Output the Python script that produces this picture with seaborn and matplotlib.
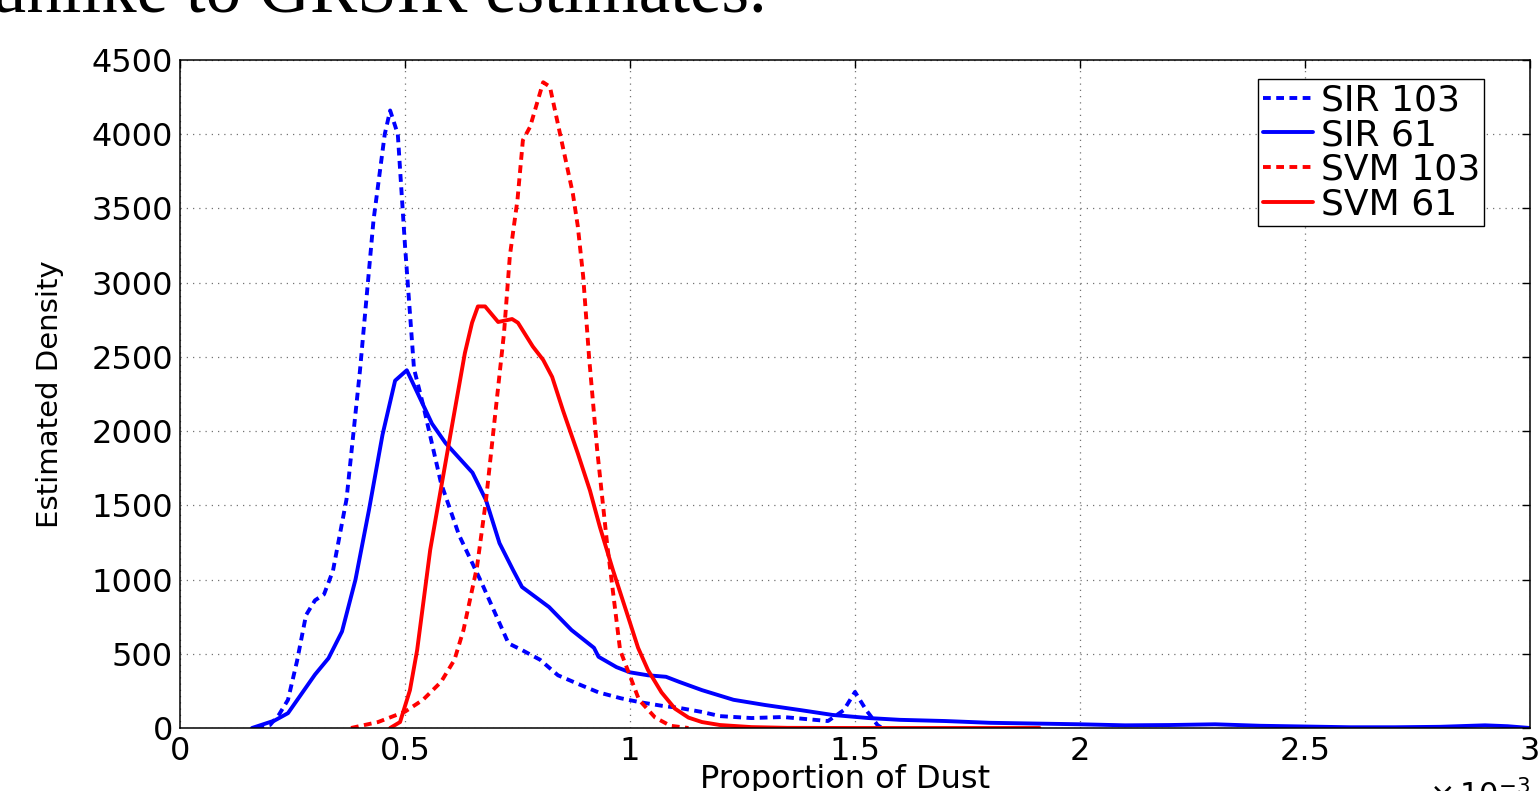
import pandas as pd
import matplotlib.pyplot as plt
import seaborn as sns
from matplotlib.ticker import FuncFormatter

# proportion of dust, in units of 1e-3
sir103_x = [0.17, 0.20, 0.22, 0.24, 0.26, 0.28, 0.30, 0.32, 0.34, 0.37, 0.40, 0.43, 0.455,
            0.467, 0.484, 0.50, 0.52, 0.54, 0.58, 0.62, 0.67, 0.73, 0.76, 0.80, 0.84, 0.89,
            0.93, 0.98, 1.02, 1.07, 1.11, 1.16, 1.20, 1.27, 1.34, 1.44, 1.475, 1.50, 1.525,
            1.55, 1.56]
sir103_y = [0, 20, 90, 190, 450, 760, 860, 900, 1060, 1540, 2410, 3420, 4000,
            4160, 4000, 3250, 2420, 2180, 1650, 1300, 980, 570, 525, 460, 355, 290,
            240, 200, 175, 150, 135, 108, 80, 67, 74, 47, 120, 243, 120,
            20, 0]

sir61_x = [0.16, 0.21, 0.24, 0.30, 0.33, 0.36, 0.39, 0.42, 0.45, 0.478, 0.504, 0.56, 0.59,
           0.65, 0.68, 0.71, 0.74, 0.76, 0.82, 0.87, 0.92, 0.93, 0.97, 1.00, 1.04, 1.08,
           1.11, 1.16, 1.23, 1.30, 1.38, 1.45, 1.53, 1.60, 1.70, 1.80, 1.90, 2.00, 2.10,
           2.20, 2.30, 2.40, 2.50, 2.60, 2.70, 2.80, 2.90, 2.95, 3.00]
sir61_y = [0, 50, 100, 360, 470, 650, 1000, 1470, 1975, 2340, 2410, 2050, 1920,
           1720, 1535, 1245, 1065, 950, 815, 660, 540, 480, 410, 375, 355, 345,
           310, 255, 190, 155, 120, 88, 67, 55, 47, 35, 30, 25, 18,
           20, 25, 15, 10, 5, 5, 8, 18, 12, 0]

svm103_x = [0.38, 0.44, 0.50, 0.54, 0.58, 0.61, 0.63, 0.66, 0.68, 0.70, 0.72, 0.733, 0.75,
            0.762, 0.778, 0.807, 0.822, 0.844, 0.873, 0.884, 0.896, 0.909, 0.927, 0.949,
            0.978, 1.00, 1.02, 1.056, 1.09, 1.13]
svm103_y = [0, 40, 110, 190, 310, 460, 660, 1085, 1535, 2100, 2660, 3180, 3560,
            3960, 4050, 4350, 4320, 4010, 3600, 3380, 3040, 2500, 1875, 1245,
            525, 350, 190, 70, 15, 0]

svm61_x = [0.467, 0.489, 0.511, 0.527, 0.556, 0.60, 0.633, 0.649, 0.662, 0.678, 0.707, 0.738,
           0.751, 0.784, 0.807, 0.827, 0.851, 0.884, 0.911, 0.933, 0.962, 0.993, 1.018,
           1.04, 1.07, 1.10, 1.13, 1.16, 1.20, 1.27, 1.35, 1.50, 1.91]
svm61_y = [0, 40, 255, 525, 1200, 1960, 2525, 2730, 2840, 2840, 2735, 2755,
           2730, 2570, 2480, 2365, 2140, 1850, 1600, 1355, 1065, 775, 540,
           390, 240, 130, 70, 40, 20, 6, 1, 0, 0]

series = ['SIR 103', 'SIR 61', 'SVM 103', 'SVM 61']
xs = [sir103_x, sir61_x, svm103_x, svm61_x]
ys = [sir103_y, sir61_y, svm103_y, svm61_y]
colors = ['#0000ff', '#0000ff', '#ff0000', '#ff0000']
styles = [(0, (2.0, 1.4)), '-', (0, (2.0, 1.4)), '-']

x_ticks = [0, 0.5, 1, 1.5, 2, 2.5, 3]
y_ticks = [0, 500, 1000, 1500, 2000, 2500, 3000, 3500, 4000, 4500]

sns.set_style('white')
plt.rcParams['font.family'] = ['DejaVu Sans']
plt.rcParams['mathtext.fontset'] = 'dejavusans'
plt.rcParams['text.color'] = 'black'
plt.rcParams['axes.labelcolor'] = 'black'

fig = plt.figure(figsize=(15.39, 7.91), dpi=100)
ax = fig.add_axes([180 / 1539, 1 - 728 / 791, 1350 / 1539, 668 / 791])

for name, x, y, c, ls in zip(series, xs, ys, colors, styles):
    df = pd.DataFrame({'dust': x, 'density': y})
    sns.lineplot(data=df, x='dust', y='density', ax=ax, color=c, linestyle=ls,
                 linewidth=2.8, label=name, estimator=None, sort=False)

ax.set_xlim(0, 3)
ax.set_ylim(0, 4500)
ax.set_xticks(x_ticks)
ax.set_yticks(y_ticks)
ax.xaxis.set_major_formatter(FuncFormatter(lambda v, p: f'{v:g}'))
ax.yaxis.set_major_formatter(FuncFormatter(lambda v, p: f'{v:g}'))
ax.tick_params(direction='in', length=6, width=1, top=True, right=True,
               labelsize=23, colors='black')
ax.tick_params(axis='x', pad=6)
ax.tick_params(axis='y', pad=5)
ax.grid(True, linestyle=(0, (1, 4)), color='0.45', linewidth=0.9)
ax.set_axisbelow(True)
for s in ax.spines.values():
    s.set_visible(True)
    s.set_color('black')
    s.set_linewidth(1.1)

ax.set_ylabel('Estimated Density', fontsize=21)
ax.yaxis.set_label_coords(-0.086, 0.5)
ax.set_xlabel('Proportion of Dust', fontsize=23)
ax.xaxis.set_label_coords(0.493, -0.054)
ax.text(1.0, -0.116, r'$\times\,10^{-3}$', transform=ax.transAxes, ha='right',
        va='baseline', fontsize=22)

leg = ax.legend(loc='upper right', bbox_to_anchor=(0.966, 0.9716), borderaxespad=0,
                fontsize=26, handlelength=1.4, handletextpad=0.2, labelspacing=0.02,
                borderpad=0.12, frameon=True, fancybox=False, framealpha=1)
leg.get_frame().set_edgecolor('black')
leg.get_frame().set_linewidth(1.0)
for t in leg.get_texts():
    t.set_color('black')

fig.text(-0.006, 1 - 12 / 791, 'unlike to GRSIR estimates.', family='Liberation Serif',
         fontsize=51, ha='left', va='baseline')

plt.savefig('out.png', dpi=100)
plt.close()
